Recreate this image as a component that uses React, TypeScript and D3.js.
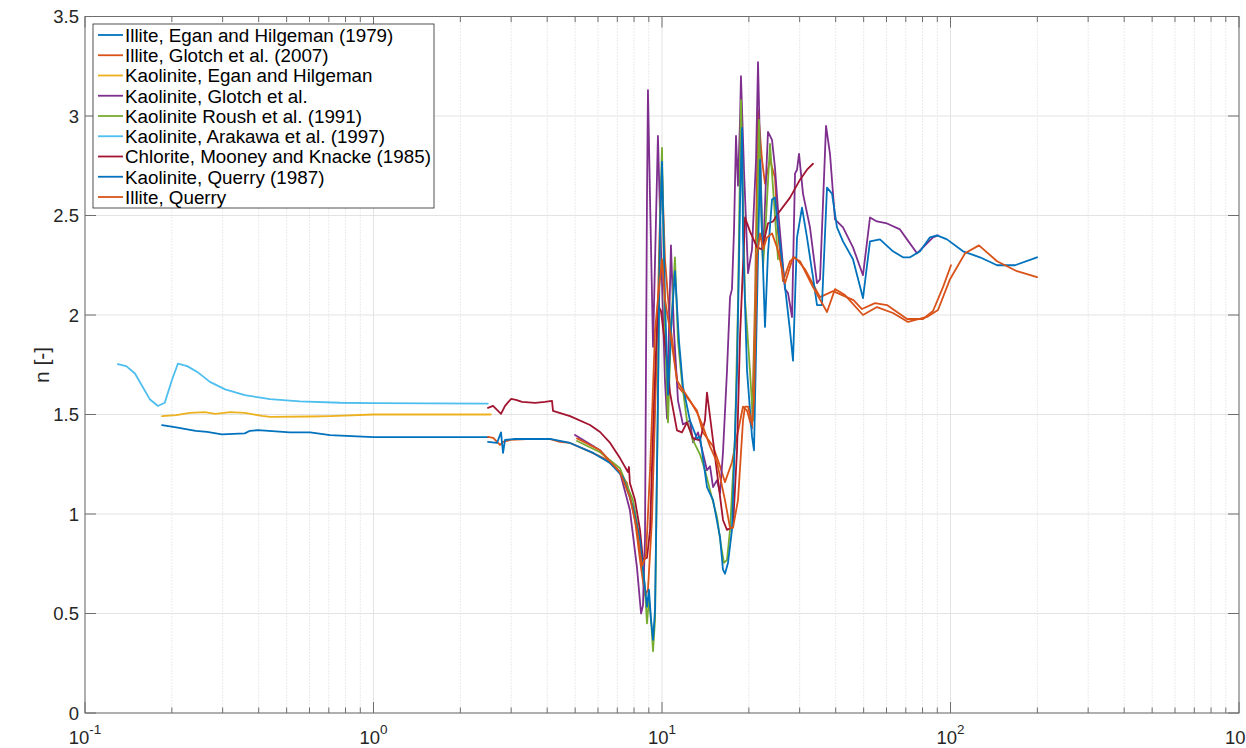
import React from "react";
import * as d3 from "d3";

type Pt = [number, number]; // [wavelength (µm), refractive index n]

// ---- Series data -------------------------------------------------------
const illiteEgan: Pt[] = [
  [0.185, 1.447], [0.207, 1.435], [0.242, 1.418], [0.265, 1.413], [0.298, 1.4],
  [0.358, 1.405], [0.373, 1.418], [0.398, 1.421], [0.513, 1.41], [0.603, 1.41],
  [0.707, 1.396], [1.0, 1.386], [2.5, 1.386],
];

const illiteGlotch: Pt[] = [
  [2.494, 1.387], [2.6, 1.382], [2.745, 1.347], [2.812, 1.362], [2.98, 1.372],
  [3.4, 1.376], [4.1, 1.376], [4.43, 1.362], [4.8, 1.357], [5.5, 1.32],
  [6.3, 1.28], [6.95, 1.23], [7.56, 1.156], [8.06, 0.97], [8.39, 0.77],
  [8.73, 0.59], [8.94, 0.62], [9.23, 0.97], [9.53, 1.67], [9.84, 2.48],
  [10.0, 2.72], [10.24, 2.28], [10.66, 1.96], [11.36, 1.64], [12.01, 1.6],
  [13.22, 1.52], [13.87, 1.41], [15.03, 1.34], [15.89, 1.24], [16.53, 1.16],
  [17.48, 1.26], [18.2, 1.39], [19.09, 1.54], [19.71, 1.52], [20.51, 1.43],
  [21.01, 2.08], [21.52, 3.03], [22.22, 2.78], [22.75, 2.66], [23.68, 2.78],
  [24.64, 2.69], [25.24, 2.41], [26.27, 2.17], [27.78, 2.27], [28.91, 2.29],
  [31.31, 2.23], [35.3, 2.09], [39.15, 2.12], [46.1, 2.075], [49.33, 2.03],
  [54.73, 2.06], [60.25, 2.05], [70.67, 1.98], [80.3, 1.98], [86.97, 2.02],
  [94.19, 2.14], [100.4, 2.25],
];

const kaoliniteEgan: Pt[] = [
  [0.185, 1.492], [0.207, 1.497], [0.231, 1.508], [0.26, 1.512], [0.283, 1.503],
  [0.319, 1.512], [0.358, 1.508], [0.411, 1.493], [0.438, 1.488], [0.603, 1.49],
  [0.707, 1.492], [1.0, 1.5], [2.55, 1.5],
];

const kaoliniteGlotch: Pt[] = [
  [4.994, 1.397], [6.1, 1.32], [7.15, 1.21], [7.74, 1.02], [8.19, 0.73],
  [8.46, 0.5], [8.59, 0.54], [8.73, 0.87], [8.87, 2.58], [8.94, 3.13],
  [9.09, 2.58], [9.31, 1.84], [9.68, 2.9], [9.92, 2.33], [10.24, 1.67],
  [10.41, 1.48], [10.57, 1.92], [10.74, 2.35], [11.0, 1.92], [11.36, 1.57],
  [11.82, 1.45], [12.5, 1.47], [12.81, 1.36], [13.33, 1.41], [14.32, 1.22],
  [14.67, 1.24], [15.03, 1.135], [15.51, 1.17], [15.89, 1.105], [16.27, 1.31],
  [16.8, 1.72], [17.21, 2.09], [17.48, 2.13], [17.77, 2.43], [18.05, 2.9],
  [18.34, 2.65], [18.64, 2.98], [18.78, 3.2], [19.24, 2.73], [19.87, 2.21],
  [20.51, 2.33], [21.18, 2.78], [21.52, 3.27], [21.87, 2.83], [22.39, 2.28],
  [22.93, 2.68], [23.3, 2.92], [24.06, 2.88], [24.64, 2.74], [25.24, 2.53],
  [26.69, 2.13], [27.34, 2.11], [28.23, 1.99], [28.91, 2.71], [29.38, 2.73],
  [29.85, 2.81], [30.81, 2.61], [32.58, 2.44], [34.46, 2.16], [35.3, 2.18],
  [37.03, 2.95], [38.22, 2.81], [39.78, 2.48], [42.4, 2.44], [45.92, 2.34],
  [49.73, 2.2], [52.6, 2.49], [55.61, 2.47], [60.25, 2.46], [66.83, 2.43],
  [70.67, 2.38], [76.54, 2.31], [86.97, 2.39], [90.52, 2.4],
];

const kaoliniteRoush: Pt[] = [
  [5.075, 1.367], [6.1, 1.31], [7.15, 1.23], [7.93, 1.07], [8.39, 0.87],
  [8.73, 0.62], [8.87, 0.45], [9.01, 0.57], [9.16, 0.47], [9.31, 0.31],
  [9.46, 0.47], [9.68, 1.57], [9.84, 2.48], [10.0, 2.84], [10.24, 1.92],
  [10.49, 1.46], [10.74, 1.92], [11.09, 2.29], [11.36, 1.87], [11.73, 1.66],
  [12.2, 1.47], [12.81, 1.37], [13.54, 1.3], [14.09, 1.22], [14.67, 1.12],
  [15.51, 0.985], [16.02, 0.84], [16.4, 0.754], [16.8, 0.77], [17.21, 0.92],
  [17.91, 1.39], [18.34, 2.06], [18.78, 3.08], [19.09, 2.58], [19.4, 2.08],
  [20.18, 1.72], [20.67, 1.47], [21.01, 1.92], [21.35, 2.39], [21.69, 2.98],
  [22.04, 2.58], [22.39, 2.24], [22.93, 2.48], [23.68, 2.86], [24.25, 2.64],
  [25.24, 2.28],
];

const kaoliniteArakawa: Pt[] = [
  [0.13, 1.753], [0.139, 1.743], [0.149, 1.706], [0.168, 1.575], [0.179, 1.543],
  [0.189, 1.559], [0.2, 1.672], [0.21, 1.756], [0.226, 1.743], [0.245, 1.714],
  [0.271, 1.664], [0.306, 1.626], [0.358, 1.597], [0.438, 1.577], [0.556, 1.566],
  [0.765, 1.559], [1.0, 1.557], [2.49, 1.555],
];

const chloriteMooney: Pt[] = [
  [2.494, 1.533], [2.596, 1.543], [2.68, 1.523], [2.767, 1.503], [2.857, 1.543],
  [2.997, 1.578], [3.119, 1.573], [3.272, 1.563], [3.63, 1.558], [3.93, 1.563],
  [4.157, 1.568], [4.19, 1.518], [4.8, 1.492], [5.63, 1.447], [6.1, 1.412],
  [6.61, 1.357], [7.15, 1.281], [7.62, 1.211], [7.68, 1.236], [7.74, 1.156],
  [8.06, 1.07], [8.39, 0.92], [8.59, 0.77], [8.87, 0.78], [9.09, 0.92],
  [9.38, 1.57], [9.68, 2.05], [9.92, 2.02], [10.41, 1.77], [10.66, 1.61],
  [11.27, 1.42], [11.73, 1.41], [12.2, 1.46], [12.81, 1.38], [13.54, 1.37],
  [14.09, 1.47], [14.32, 1.61], [14.67, 1.49], [15.51, 1.21], [16.27, 0.97],
  [16.8, 0.92], [17.62, 0.935], [18.2, 1.32], [18.64, 1.89], [19.4, 2.49],
  [20.18, 2.42], [21.35, 2.34], [22.22, 2.33], [23.3, 2.46], [24.25, 2.47],
  [25.24, 2.51], [27.78, 2.59], [30.09, 2.68], [31.81, 2.73], [33.37, 2.76],
];

const kaoliniteQuerry: Pt[] = [
  [2.494, 1.362], [2.68, 1.357], [2.767, 1.41], [2.812, 1.307], [2.857, 1.372],
  [3.094, 1.377], [4.09, 1.377], [4.8, 1.357], [5.77, 1.307], [6.61, 1.256],
  [7.32, 1.186], [7.93, 1.035], [8.39, 0.87], [8.73, 0.633], [8.87, 0.533],
  [9.01, 0.62], [9.16, 0.47], [9.31, 0.367], [9.46, 0.52], [9.68, 1.57],
  [9.84, 2.43], [10.0, 2.77], [10.24, 2.08], [10.49, 1.6], [10.74, 1.92],
  [11.09, 2.22], [11.45, 1.87], [11.82, 1.64], [12.5, 1.47], [13.22, 1.38],
  [13.54, 1.39], [14.32, 1.135], [15.03, 1.07], [15.89, 0.884], [16.27, 0.72],
  [16.53, 0.7], [16.93, 0.754], [17.48, 0.92], [18.2, 1.72], [18.64, 2.56],
  [18.94, 2.94], [19.09, 2.39], [19.71, 1.72], [20.51, 1.39], [20.84, 1.32],
  [21.35, 2.06], [21.87, 2.78], [22.22, 2.39], [22.75, 1.94], [23.3, 2.31],
  [24.06, 2.58], [24.64, 2.59], [25.24, 2.44], [26.27, 2.23], [27.78, 1.92],
  [28.45, 1.77], [29.38, 2.39], [30.57, 2.54], [31.81, 2.39], [33.37, 2.19],
  [34.46, 2.05], [35.85, 2.05], [37.32, 2.64], [38.84, 2.61], [40.42, 2.44],
  [42.4, 2.37], [45.92, 2.28], [49.73, 2.085], [52.6, 2.37], [56.96, 2.38],
  [63.19, 2.32], [68.45, 2.29], [72.38, 2.29], [78.4, 2.32], [84.9, 2.39],
  [89.8, 2.4], [97.25, 2.38], [110.5, 2.32], [126.5, 2.29], [145.0, 2.25],
  [167.3, 2.25], [199.5, 2.29],
];

const illiteQuerry: Pt[] = [
  [5.075, 1.38], [6.1, 1.32], [7.15, 1.21], [7.74, 1.085], [8.19, 0.92],
  [8.52, 0.74], [8.8, 0.79], [9.09, 1.22], [9.46, 1.92], [9.68, 2.08],
  [10.0, 2.28], [10.24, 2.08], [10.66, 1.92], [11.27, 1.67], [12.5, 1.57],
  [13.22, 1.51], [13.87, 1.44], [14.67, 1.34], [15.51, 1.26], [16.53, 1.07],
  [17.21, 0.93], [17.62, 0.93], [18.34, 1.07], [19.09, 1.47], [19.4, 1.54],
  [19.87, 1.54], [20.51, 1.45], [20.84, 1.57], [21.35, 2.3], [21.87, 2.41],
  [22.39, 2.33], [23.12, 2.39], [24.06, 2.41], [25.04, 2.34], [25.64, 2.28],
  [26.69, 2.16], [28.45, 2.29], [30.09, 2.27], [33.37, 2.14], [37.32, 2.015],
  [39.78, 2.13], [43.08, 2.1], [49.73, 2.0], [55.61, 2.04], [63.19, 2.01],
  [71.24, 1.965], [82.89, 1.99], [90.52, 2.025], [99.6, 2.18], [112.3, 2.31],
  [125.5, 2.35], [145.0, 2.27], [170.0, 2.22], [199.5, 2.19],
];

const seriesData: Pt[][] = [
  illiteEgan, illiteGlotch, kaoliniteEgan, kaoliniteGlotch, kaoliniteRoush,
  kaoliniteArakawa, chloriteMooney, kaoliniteQuerry, illiteQuerry,
];

const seriesLabels: string[] = [
  "Illite, Egan and Hilgeman (1979)",
  "Illite, Glotch et al. (2007)",
  "Kaolinite, Egan and Hilgeman",
  "Kaolinite, Glotch et al.",
  "Kaolinite Roush et al. (1991)",
  "Kaolinite, Arakawa et al. (1997)",
  "Chlorite, Mooney and Knacke (1985)",
  "Kaolinite, Querry (1987)",
  "Illite, Querry",
];

const seriesColors: string[] = [
  "#0072BD", "#D95319", "#EDB120", "#7E2F8E", "#77AC30",
  "#4DBEEE", "#A2142F", "#0072BD", "#D95319",
];

const yTicks: number[] = [0, 0.5, 1, 1.5, 2, 2.5, 3, 3.5];
const xDecades: number[] = [-1, 0, 1, 2, 3];

// ---- Layout -----------------------------------------------------------
const W = 1246;
const H = 748;
const left = 85;
const right = 1239;
const top = 16.5;
const bottom = 713;
const FONT = "'Liberation Sans', Arial, Helvetica, sans-serif";
const AXIS = "#6e6e6e";
const TICK_MAJOR = 11;
const TICK_MINOR = 5.5;

export default function App() {
  const x = d3.scaleLog().domain([0.1, 1000]).range([left, right]);
  const y = d3.scaleLinear().domain([0, 3.5]).range([bottom, top]);

  const line = d3
    .line<Pt>()
    .x((d) => x(d[0]))
    .y((d) => y(d[1]));

  const majorX = xDecades.map((e) => Math.pow(10, e));
  const minorX: number[] = [];
  for (let e = -1; e < 3; e++) {
    for (let m = 2; m <= 9; m++) minorX.push(m * Math.pow(10, e));
  }

  const legendX = 93;
  const legendY = 24;
  const legendW = 341;
  const legendH = 184;
  const rowGap = 20.25;

  return (
    <svg
      width={W}
      height={H}
      style={{ position: "absolute", left: 0, top: 0, background: "#fff" }}
      fontFamily={FONT}
    >
      <rect x={0} y={0} width={W} height={H} fill="#fff" />

      {/* minor grid (x only) */}
      {minorX.map((v, i) => (
        <line
          key={"mg" + i}
          x1={x(v)}
          x2={x(v)}
          y1={top}
          y2={bottom}
          stroke="#d4d4d4"
          strokeWidth={1}
          strokeDasharray="1,2"
        />
      ))}
      {/* major grid */}
      {majorX.map((v, i) => (
        <line key={"gx" + i} x1={x(v)} x2={x(v)} y1={top} y2={bottom} stroke="#e3e3e3" strokeWidth={1} />
      ))}
      {yTicks.map((v, i) => (
        <line key={"gy" + i} x1={left} x2={right} y1={y(v)} y2={y(v)} stroke="#e3e3e3" strokeWidth={1} />
      ))}

      {/* data */}
      <g fill="none" strokeWidth={1.8} strokeLinejoin="round" strokeLinecap="round">
        {seriesData.map((s, i) => (
          <path key={"s" + i} d={line(s) || ""} stroke={seriesColors[i]} />
        ))}
      </g>

      {/* axes box */}
      <rect x={left} y={top} width={right - left} height={bottom - top} fill="none" stroke={AXIS} strokeWidth={1} />

      {/* ticks */}
      {yTicks.map((v, i) => (
        <g key={"ty" + i} stroke={AXIS} strokeWidth={1}>
          <line x1={left} x2={left + TICK_MAJOR} y1={y(v)} y2={y(v)} />
          <line x1={right} x2={right - TICK_MAJOR} y1={y(v)} y2={y(v)} />
        </g>
      ))}
      {majorX.map((v, i) => (
        <g key={"tx" + i} stroke={AXIS} strokeWidth={1}>
          <line x1={x(v)} x2={x(v)} y1={bottom} y2={bottom - TICK_MAJOR} />
          <line x1={x(v)} x2={x(v)} y1={top} y2={top + TICK_MAJOR} />
        </g>
      ))}
      {minorX.map((v, i) => (
        <g key={"tm" + i} stroke={AXIS} strokeWidth={1}>
          <line x1={x(v)} x2={x(v)} y1={bottom} y2={bottom - TICK_MINOR} />
          <line x1={x(v)} x2={x(v)} y1={top} y2={top + TICK_MINOR} />
        </g>
      ))}

      {/* tick labels */}
      {yTicks.map((v, i) => (
        <text
          key={"ly" + i}
          x={left - 6}
          y={y(v)}
          dy="0.36em"
          textAnchor="end"
          fontSize={18.5}
          fill="#262626"
        >
          {String(v)}
        </text>
      ))}
      {xDecades.map((e, i) => (
        <text key={"lx" + i} x={x(Math.pow(10, e))} y={744} textAnchor="middle" fontSize={18.5} fill="#262626">
          <tspan>10</tspan>
          <tspan dy={-10} fontSize={13.5}>
            {String(e)}
          </tspan>
        </text>
      ))}

      {/* y label */}
      <text
        transform={`translate(49,365) rotate(-90)`}
        textAnchor="middle"
        fontSize={21}
        fill="#262626"
      >
        n [-]
      </text>

      {/* legend */}
      <rect x={legendX} y={legendY} width={legendW} height={legendH} fill="#fff" stroke="#262626" strokeWidth={0.8} />
      {seriesLabels.map((lab, i) => {
        const cy = legendY + 11 + i * rowGap;
        return (
          <g key={"lg" + i}>
            <line x1={legendX + 5} x2={legendX + 30} y1={cy} y2={cy} stroke={seriesColors[i]} strokeWidth={1.8} />
            <text x={legendX + 32} y={cy} dy="0.36em" fontSize={18.8} fill="#000">
              {lab}
            </text>
          </g>
        );
      })}
    </svg>
  );
}
